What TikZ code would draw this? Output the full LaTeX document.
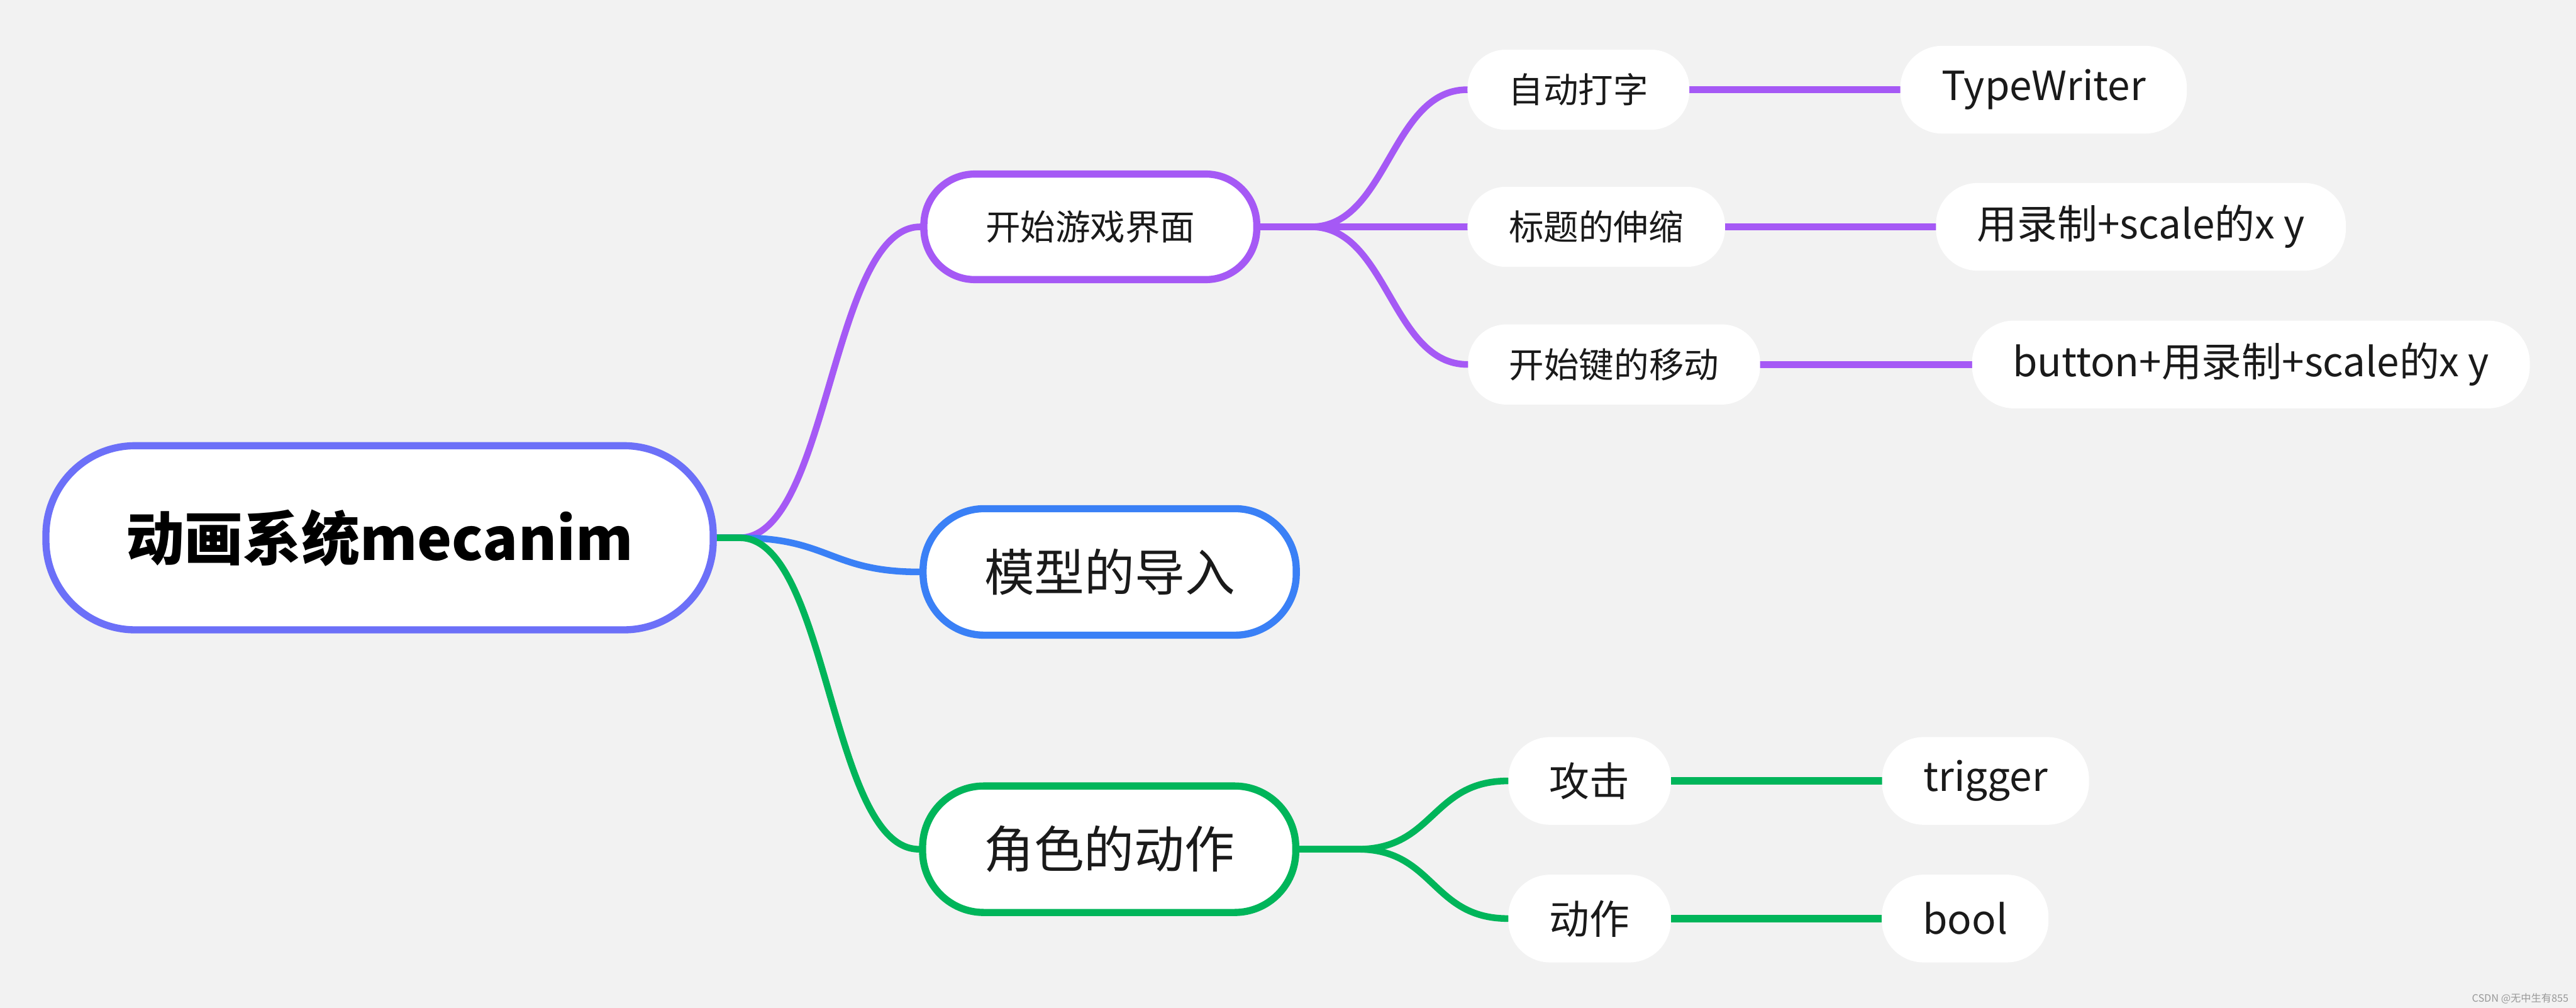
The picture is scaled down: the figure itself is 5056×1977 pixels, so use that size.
\documentclass[tikz,border=0pt]{standalone}
\usepackage{fontspec}
\setmainfont{Noto Sans CJK SC}
\usetikzlibrary{backgrounds}
\definecolor{bgc}{HTML}{F2F2F2}
\definecolor{rootc}{HTML}{6C70F8}
\definecolor{purp}{HTML}{A559F5}
\definecolor{bluec}{HTML}{3A80F6}
\definecolor{greenc}{HTML}{00B55A}
\definecolor{txt}{HTML}{1A1A1A}
\begin{document}
\begin{tikzpicture}[x=0.01cm,y=-0.01cm,
  every node/.style={inner sep=0pt, align=center, text=txt},
  rootnode/.style={draw=rootc, fill=white, line width=0.14cm, minimum width=13.09cm, minimum height=3.61cm, rounded corners=1.75cm, text=black, font=\fontsize{32.6}{38}\selectfont\bfseries},
  mainp/.style={draw=purp, fill=white, line width=0.14cm, minimum width=6.53cm, minimum height=2.07cm, rounded corners=1.0cm, font=\fontsize{19.5}{23}\selectfont},
  mainbig/.style={fill=white, line width=0.14cm, minimum width=7.32cm, minimum height=2.48cm, rounded corners=1.2cm, font=\fontsize{28}{32}\selectfont},
  subp/.style={fill=white, minimum height=1.57cm, rounded corners=0.75cm, font=\fontsize{19.5}{23}\selectfont},
  leaf/.style={fill=white, minimum height=1.72cm, rounded corners=0.82cm, font=\fontsize{22.4}{26}\selectfont},
  conn/.style={line width=0.13cm, line cap=round},
  hconn/.style={line width=0.14cm, line cap=round}
]
\useasboundingbox (0,0) rectangle (5056,1977);

% nodes
\node[rootnode] (R) at (745,1055) {动画系统mecanim};
\node[mainp] (P) at (2140,445) {开始游戏界面};
\node[mainbig, draw=bluec] (B) at (2178,1122) {模型的导入};
\node[mainbig, draw=greenc] (G) at (2177,1666) {角色的动作};

\node[subp, minimum width=4.35cm] (P1) at (3098,176) {自动打字};
\node[subp, minimum width=5.05cm] (P2) at (3133,445) {标题的伸缩};
\node[subp, minimum width=5.73cm] (P3) at (3168,715) {开始键的移动};
\node[leaf, minimum width=5.62cm] (P1a) at (4011,176) {TypeWriter};
\node[leaf, minimum width=8.04cm] (P2a) at (4202,445) {用录制+scale的x y};
\node[leaf, minimum width=10.94cm] (P3a) at (4418,715) {button+用录制+scale的x y};

\node[leaf, minimum width=3.19cm] (G1) at (3120,1532) {攻击};
\node[leaf, minimum width=3.19cm] (G2) at (3120,1802) {动作};
\node[leaf, minimum width=4.06cm] (G1a) at (3897,1532) {trigger};
\node[leaf, minimum width=3.27cm] (G2a) at (3857,1802) {bool};

\node[anchor=east, text=black!40, font=\fontsize{5.7}{7}\selectfont] (wm) at (5042,1959) {CSDN @无中生有855};

\begin{scope}[on background layer]
  \fill[bgc] (0,0) rectangle (5056,1977);
  % root branches
  \draw[conn, purp] (R.east) -- ++(45,0) .. controls +(175,0) and +(-175,0) .. (P.west);
  \draw[conn, bluec] (R.east) -- ++(45,0) .. controls +(175,0) and +(-175,0) .. (B.west);
  \draw[conn, greenc] (R.east) -- ++(45,0) .. controls +(175,0) and +(-175,0) .. (G.west);
  % purple sub-branches
  \draw[conn, purp] (P.east) -- ++(100,0) .. controls +(150,0) and +(-150,0) .. (P1.west);
  \draw[hconn, purp] (P.east) -- (P2.west);
  \draw[conn, purp] (P.east) -- ++(100,0) .. controls +(150,0) and +(-150,0) .. (P3.west);
  \draw[hconn, purp] (P1.east) -- (P1a.west);
  \draw[hconn, purp] (P2.east) -- (P2a.west);
  \draw[hconn, purp] (P3.east) -- (P3a.west);
  % green sub-branches
  \draw[conn, greenc] (G.east) -- ++(115,0) .. controls +(150,0) and +(-150,0) .. (G1.west);
  \draw[conn, greenc] (G.east) -- ++(115,0) .. controls +(150,0) and +(-150,0) .. (G2.west);
  \draw[hconn, greenc] (G1.east) -- (G1a.west);
  \draw[hconn, greenc] (G2.east) -- (G2a.west);
\end{scope}
\end{tikzpicture}
\end{document}
